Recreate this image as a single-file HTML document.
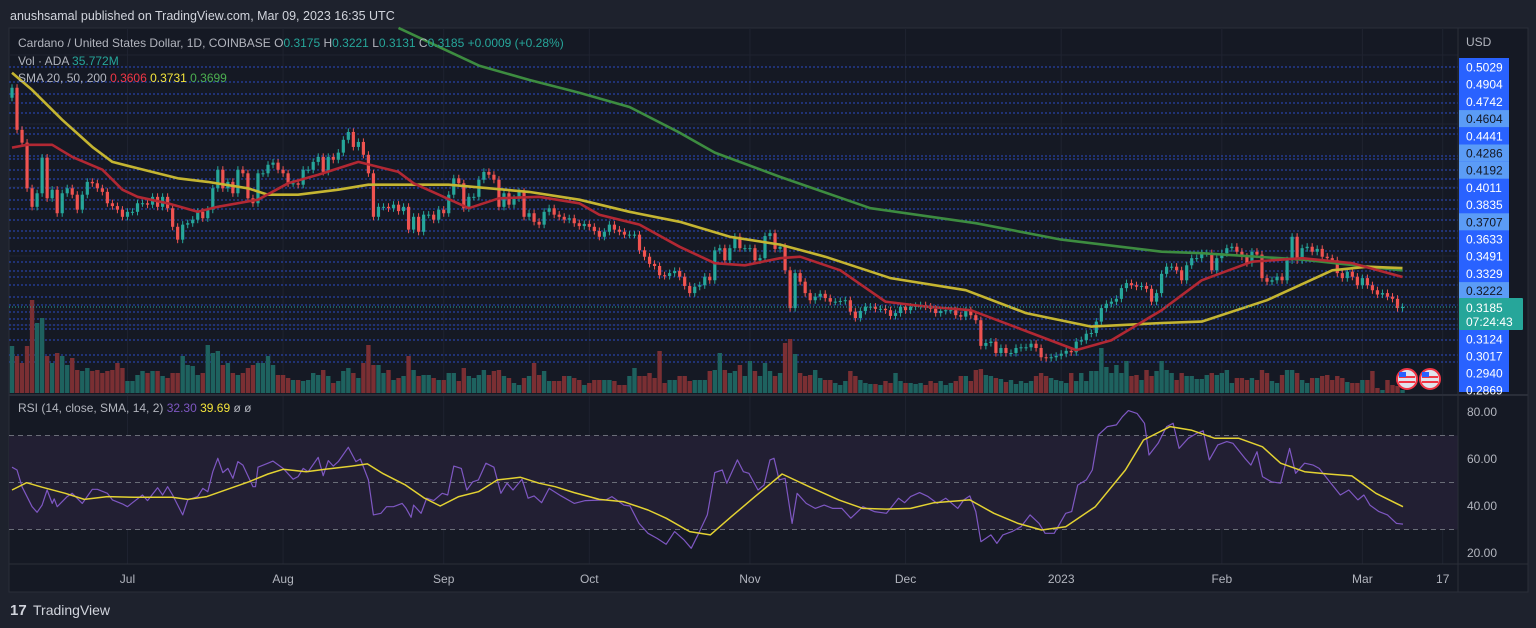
<!DOCTYPE html>
<html><head><meta charset="utf-8">
<style>
html,body{margin:0;padding:0;background:#1e222d;}
svg{display:block;font-family:"Liberation Sans",sans-serif;}
</style></head>
<body>
<svg id="c" width="1536" height="628" viewBox="0 0 1536 628" xmlns="http://www.w3.org/2000/svg">
<rect x="0" y="0" width="1536" height="628" fill="#1e222d"/>
<text x="10" y="20" fill="#d1d4dc" font-size="12.5">anushsamal published on TradingView.com, Mar 09, 2023 16:35 UTC</text>
<rect x="9" y="28" width="1519" height="564" fill="#151924" stroke="#2a2e39"/>
<g id="grid"></g>
<g id="hlines"></g>
<g id="vol"></g>
<g id="candles"></g>
<g id="smas"></g>
<line x1="9" y1="395" x2="1528" y2="395" stroke="#2a2e39" stroke-width="2"/>
<g id="rsi"></g>
<line x1="9" y1="564" x2="1528" y2="564" stroke="#2a2e39"/>
<line x1="1458" y1="28" x2="1458" y2="592" stroke="#2a2e39"/>
<g id="taxis" font-size="12" fill="#b2b5be" text-anchor="middle"></g>
<g id="paxis" font-size="12"></g>
<g id="raxis" font-size="12" fill="#b2b5be"></g>
<text x="1466" y="46" fill="#b2b5be" font-size="12">USD</text>
<g font-size="12">
<text x="18" y="47" fill="#b2b5be">Cardano / United States Dollar, 1D, COINBASE  O<tspan fill="#26a69a">0.3175</tspan>  H<tspan fill="#26a69a">0.3221</tspan>  L<tspan fill="#26a69a">0.3131</tspan>  C<tspan fill="#26a69a">0.3185</tspan>  <tspan fill="#26a69a">+0.0009 (+0.28%)</tspan></text>
<text x="18" y="65" fill="#b2b5be">Vol · ADA  <tspan fill="#26a69a">35.772M</tspan></text>
<text x="18" y="82" fill="#b2b5be">SMA 20, 50, 200  <tspan fill="#f23645">0.3606</tspan>  <tspan fill="#f5e53b">0.3731</tspan>  <tspan fill="#4caf50">0.3699</tspan></text>
<text x="18" y="412" fill="#b2b5be">RSI (14, close, SMA, 14, 2)  <tspan fill="#7e57c2">32.30</tspan>  <tspan fill="#f5e53b">39.69</tspan>  <tspan fill="#b2b5be">ø  ø</tspan></text>
</g>
<g>
<circle cx="1407" cy="379" r="10" fill="#e0e3eb" stroke="#f23645" stroke-width="2"/>
<rect x="1399" y="376" width="16" height="2" fill="#f23645"/><rect x="1399" y="381" width="16" height="2" fill="#f23645"/><rect x="1399" y="372" width="7" height="5" fill="#2962ff"/>
<circle cx="1430" cy="379" r="10" fill="#e0e3eb" stroke="#f23645" stroke-width="2"/>
<rect x="1422" y="376" width="16" height="2" fill="#f23645"/><rect x="1422" y="381" width="16" height="2" fill="#f23645"/><rect x="1422" y="372" width="7" height="5" fill="#2962ff"/>
</g>
<g>
<text x="10" y="615" fill="#d1d4dc" font-size="15" font-weight="bold">17</text>
<text x="33" y="615" fill="#d1d4dc" font-size="14">TradingView</text>
</g>
</svg>
<script>
const closes=[0.626,0.567,0.549,0.485,0.459,0.478,0.528,0.471,0.483,0.450,0.478,0.485,0.476,0.455,0.476,0.494,0.492,0.485,0.480,0.464,0.460,0.455,0.445,0.452,0.452,0.464,0.464,0.462,0.473,0.459,0.473,0.457,0.431,0.413,0.434,0.436,0.441,0.452,0.443,0.455,0.485,0.511,0.485,0.494,0.478,0.511,0.506,0.471,0.464,0.506,0.506,0.518,0.521,0.511,0.506,0.492,0.492,0.490,0.511,0.511,0.522,0.529,0.508,0.529,0.525,0.535,0.553,0.564,0.543,0.550,0.532,0.506,0.445,
0.459,0.459,0.457,0.462,0.453,0.459,0.427,0.445,0.424,0.448,0.448,0.441,0.455,0.450,0.476,0.499,0.492,0.457,0.473,0.473,0.497,0.508,0.504,0.497,0.459,0.478,0.462,0.471,0.480,0.445,0.450,0.438,0.434,0.452,0.457,0.448,0.445,0.441,0.443,0.436,0.432,0.435,0.431,0.425,0.417,0.424,0.434,0.427,0.424,0.420,0.420,0.420,0.398,0.389,0.379,0.376,0.363,0.362,0.366,0.369,0.361,0.348,0.338,0.347,0.349,0.361,0.356,0.398,0.401,0.384,0.401,0.417,0.401,0.401,0.401,0.384,
0.387,0.418,0.422,0.400,0.403,0.370,0.317,0.366,0.354,0.338,0.328,0.333,0.337,0.331,0.326,0.326,0.327,0.328,0.312,0.303,0.313,0.319,0.319,0.316,0.316,0.314,0.306,0.310,0.319,0.314,0.319,0.320,0.321,0.319,0.316,0.310,0.313,0.314,0.314,0.307,0.305,0.314,0.307,0.300,0.264,0.268,0.270,0.254,0.261,0.254,0.254,0.261,0.262,0.262,0.267,0.261,0.248,0.247,0.248,0.250,0.253,0.257,0.255,0.270,0.272,0.281,0.282,0.298,0.317,0.323,0.326,0.330,0.345,0.352,0.349,0.347,0.348,0.344,0.326,0.338,
0.365,0.375,0.375,0.370,0.356,0.377,0.387,0.387,0.394,0.394,0.370,0.387,0.394,0.401,0.403,0.396,0.389,0.380,0.396,0.392,0.359,0.354,0.356,0.361,0.356,0.384,0.417,0.384,0.401,0.403,0.396,0.400,0.389,0.387,0.384,0.366,0.359,0.368,0.361,0.349,0.359,0.349,0.342,0.336,0.338,0.333,0.330,0.317,0.3185];
const volumes=[47,37,30,47,93,70,75,37,30,40,37,28,35,23,22,25,22,23,20,22,23,30,25,12,12,18,22,20,22,22,17,15,20,20,37,28,27,18,20,48,40,42,28,30,20,18,20,25,28,30,30,37,28,18,18,15,13,13,12,13,20,18,23,17,10,12,22,25,20,15,30,48,28,
28,20,23,13,15,17,37,23,17,18,18,15,13,13,20,20,12,25,17,15,18,23,18,22,23,17,15,10,8,15,17,30,18,22,12,12,12,17,17,15,13,8,10,13,13,13,13,12,8,8,17,25,17,17,20,15,42,10,13,13,17,17,12,13,13,13,22,23,40,23,20,22,28,17,32,22,
17,30,22,17,20,50,54,39,20,17,18,23,15,13,13,10,8,12,22,17,13,10,9,9,8,12,10,20,12,10,10,9,10,8,12,10,12,8,10,12,17,17,12,23,24,18,17,15,14,11,13,9,12,10,12,17,20,17,15,13,12,10,20,12,20,12,22,22,45,26,20,28,20,32,17,18,13,23,17,22,
32,23,20,13,20,17,17,14,14,18,20,18,20,23,10,15,15,13,15,13,23,20,12,10,18,23,23,20,13,10,15,15,17,18,13,17,15,11,10,10,13,13,22,5,3,13,8,7,3];
const sma20Days=[0,3,8,12,18,22,25,31,37,41,49,55,61,69,77,80,91,97,105,113,117,125,133,140,146,153,157,165,174,182,191,203,212,219,229,237,247,257,267,277];
const sma20Vals=[0.542,0.546,0.546,0.529,0.511,0.483,0.473,0.464,0.452,0.459,0.469,0.492,0.504,0.522,0.508,0.492,0.457,0.471,0.473,0.464,0.448,0.434,0.403,0.380,0.377,0.387,0.389,0.370,0.326,0.319,0.314,0.282,0.258,0.272,0.314,0.356,0.382,0.387,0.380,0.3606];
const sma50Days=[0,4,10,16,20,25,33,39,47,51,57,65,71,77,87,103,113,123,133,143,153,162,175,190,202,215,229,237,250,263,270,277];
const sma50Vals=[0.647,0.623,0.581,0.543,0.522,0.513,0.499,0.494,0.485,0.476,0.476,0.483,0.490,0.490,0.490,0.480,0.469,0.452,0.438,0.417,0.406,0.389,0.359,0.342,0.310,0.291,0.296,0.298,0.328,0.370,0.375,0.3731];
const sma200Days=[77,93,103,113,123,133,140,153,171,192,209,229,237,257,277];
const sma200Vals=[0.710,0.657,0.637,0.619,0.599,0.563,0.535,0.501,0.457,0.436,0.413,0.396,0.394,0.385,0.3699];
const rsiDays=[0,1,2,4,5,6,7,8,8.4,9,11,12,14,16,17,19,20,22,23,24,26,27,29,30,31,32,34,35,37,38,39,40,41,42,43,44,45,46,48,48.5,49,51,52,54,56,57,58,59,61,62,63,64,65,67,68.5,69.4,71,72,73.5,74.6,76,77.7,78.5,79.5,80,81.5,82.6,84,85.7,86.8,88,89.5,90.6,91.8,92.9,94.4,96,97.4,98.6,99.8,101.6,102.8,104,105.5,107,109.3,112,114.2,
118.3,119.5,121.9,123.1,124.9,126.7,128.5,130.3,132,133.9,135.3,136.8,138.5,140,141.5,142.4,144.5,145.7,146.8,148.6,149.8,151,151.8,152.8,154,155.4,156.4,158.2,160,161.8,163.5,165.3,167.1,169.5,171.8,174.2,176.6,177.8,179,180.8,182.5,184.3,186,188.4,189.6,190.8,192,193,195,196.2,197.4,199.2,201,202.8,204.6,205.8,207.6,209.9,211.1,212.3,214,215.2,216.4,218.2,220,221.2,222.4,224.1,225.6,226.5,228.3,230,231.3,232.5,234.3,236,237.3,238.5,240.2,242,243.2,245.6,246.8,248,249.1,250.9,252.7,254.5,255.7,257.5,259.2,260.4,262.2,264.6,266.3,268.1,269.3,270.5,272.3,274,275.8,277.1];
const rsiVals=[56.5,55.3,48.2,39.7,37.3,40.4,46.8,41.1,43,39.7,44,45.4,41.1,47.1,47.1,45.4,42.6,40.9,39.7,41.4,44.7,42.3,47.8,44.7,48.2,44.7,36.2,42.6,44,47.5,46.1,54.6,60.3,54.2,56,51.8,58.9,57.4,48.2,48.2,56.5,58.2,59.1,56,51.4,52.5,56,54.6,60.7,52.9,59.3,57,58.9,65,58.9,60,51.1,36.2,36.9,39.7,39.7,41.1,39,35.2,40.4,36.9,43.3,42.3,45.4,44.7,57,56,46.8,50.3,51.1,58.2,56.5,45.4,49.7,46.8,51.4,43.3,44.3,41.4,47.5,44.4,41.1,42.3,
42.6,44,40.4,40,32.6,28.4,26.2,23.7,29.1,25.5,22,28.4,36.2,54.2,55.3,49.7,59.6,54.6,53.9,46.8,48.9,59.6,60.3,51.1,51.8,32.6,45.4,41.1,39,40.4,39,39,34.8,39.7,37.6,36.9,43.3,41.4,44,45.7,44,41.1,43.3,39,42.6,44.3,37.6,24.8,27.7,24.1,27.7,29.1,31.2,36.2,32.6,28.4,28.4,36.9,37.6,48.9,51.1,55.3,70.2,73.8,74.5,78,80.6,79.4,75.2,61.7,66.7,73.8,75.2,64.5,68.8,70.9,72,59.6,66,67.4,66.7,60.3,57.4,63.1,52.5,50.3,49.7,64.5,53.9,58.2,57.4,56,51.1,44.7,46.8,42.6,44.7,40.4,37.6,36.2,32.6,32.3];
const rsiMaDays=[0,2.9,6,10.6,14.4,19,24.3,31.9,35,38.8,43.4,47.2,51,54,58.6,62.4,67.7,70.8,73.8,78.4,82.2,85.3,89,92.9,96.7,101.3,105,108.2,112,117,121.9,126.7,130.3,135,139.1,143.3,148,153.4,158.8,164.7,169.5,174.2,179,183.7,190.8,195.6,200.4,205.1,209.9,215.8,221.8,225.4,230.7,234.9,239.6,244.4,249.1,252.7,257.5,262.2,266.9,271.7,277.1];
const rsiMaVals=[46.8,49.9,48,45.4,42.8,44,43.7,43.7,42.8,44,47.5,50.3,53.6,55.6,54.6,55.6,57,57.9,53.9,48.9,43.3,40,44,46.1,51.1,52.2,49.7,48.2,45.7,42.8,41.8,38.3,34.8,29.1,27.7,35.5,44,53.6,48.2,42.6,39,38.7,39,41.4,42.6,36.9,32.6,29.8,31.2,39.7,55.3,68.1,73.8,72.3,68.8,68.8,65.2,58.2,54.6,53.6,52.8,45.4,39.69];
const monthTickDays=[23,54,86,115,147,178,209,241,269,285];
const monthTickLabels=["Jul","Aug","Sep","Oct","Nov","Dec","2023","Feb","Mar","17"];
const priceLabels=["0.5029","0.4904","0.4742","0.4604","0.4441","0.4286","0.4192","0.4011","0.3835","0.3707","0.3633","0.3491","0.3329","0.3222","0.3124","0.3017","0.2940","0.2869"];
const lightLabels=["0.4604","0.4286","0.4192","0.3707","0.3222"];
const rsiTicks=[80,60,40,20];

const NS="http://www.w3.org/2000/svg";
function mk(tag,attrs,parent){const e=document.createElementNS(NS,tag);for(const k in attrs)e.setAttribute(k,attrs[k]);parent.appendChild(e);return e;}
const xD=i=>12+i*5.02;
const yP=p=>307-(p-0.3185)*713;
const yV=v=>393-v*1.0;
const yR=v=>412+(80-v)*2.35;

const grid=document.getElementById('grid');
monthTickDays.forEach(d=>{const l=mk('line',{x1:xD(d),x2:xD(d),y1:28,y2:564,stroke:'#1f2330','stroke-width':1},grid);

});
[55,124,187,256,325].forEach(y=>{const l=mk('line',{x1:9,x2:1458,y1:y,y2:y,stroke:'#1f2330'},grid);

});
const hl=document.getElementById('hlines');
[67,82,94,103,113,128,134,156,159,170,179,188,200,209,220,231,238,251,262,271,277,285,297,305,312,319,325,329,340,355,362].forEach(y=>{const l=mk('line',{x1:9,x2:1458,y1:y,y2:y,stroke:'#2b4cc4','stroke-width':1,'stroke-dasharray':'2 2'},hl);

});

const cg=document.getElementById('candles'),vg=document.getElementById('vol');
let prev=0.612;
closes.forEach((c,i)=>{const o=prev;prev=c;const up=c>=o;const col=up?'#26a69a':'#ef5350';const x=xD(i);
const hi=Math.max(o,c)+0.005,lo=Math.min(o,c)-0.005;
const w=mk('line',{x1:x,x2:x,y1:yP(hi),y2:yP(lo),stroke:col,'stroke-width':1},cg);


const yt=yP(Math.max(o,c)),yb=yP(Math.min(o,c));
const b=mk('rect',{x:x-1.6,y:yt,width:3.2,height:Math.max(1,yb-yt),fill:col},cg);


const v=volumes[i];const vb=mk('rect',{x:x-2.2,y:yV(v),width:4.4,height:393-yV(v),fill:up?'#1e625f':'#7a2f33'},vg);

});

const sg=document.getElementById('smas');
function poly(days,vals,yf,color,w,parent,name){const pts=days.map((d,i)=>xD(d).toFixed(1)+','+yf(vals[i]).toFixed(1)).join(' ');
const p=mk('polyline',{points:pts,fill:'none',stroke:color,'stroke-width':w,'stroke-linejoin':'round'},parent);

return p;}
poly(sma200Days,sma200Vals,yP,'#3d8c40',2.6,sg,'sma-200-line');
poly(sma50Days,sma50Vals,yP,'#c5b531',2.6,sg,'sma-50-line');
poly(sma20Days,sma20Vals,yP,'#b22833',2.6,sg,'sma-20-line');

const rg=document.getElementById('rsi');
const band=mk('rect',{x:9,y:yR(70),width:1449,height:yR(30)-yR(70),fill:'#221f33'},rg);


[70,50,30].forEach(v=>{const l=mk('line',{x1:9,x2:1458,y1:yR(v),y2:yR(v),stroke:'#6a6d78','stroke-dasharray':'5 4'},rg);

});
poly(rsiDays,rsiVals,yR,'#7e57c2',1.2,rg,'rsi-line');
poly(rsiMaDays,rsiMaVals,yR,'#e3d232',1.5,rg,'rsi-ma-line');

const ta=document.getElementById('taxis');
monthTickDays.forEach((d,i)=>{const t=mk('text',{x:xD(d),y:583},ta);t.textContent=monthTickLabels[i];

});
const ra=document.getElementById('raxis');
rsiTicks.forEach(v=>{const t=mk('text',{x:1467,y:yR(v)+4},ra);t.textContent=v.toFixed(2);

});
const pa=document.getElementById('paxis');
const bg=mk('rect',{x:1459,y:58,width:50,height:334,fill:'#2962ff'},pa);


priceLabels.forEach((s,i)=>{const yc=i<14?67+i*17.2:339+(i-14)*17;const light=lightLabels.includes(s);
if(light){const r=mk('rect',{x:1459,y:yc-8.5,width:50,height:17,fill:'#5b9cf6'},pa);

}
const t=mk('text',{x:1466,y:yc+4.5,fill:light?'#131722':'#ffffff'},pa);t.textContent=s;

});
const cb=mk('rect',{x:1459,y:298,width:64,height:32,fill:'#26a69a',rx:1},pa);


const ct=mk('text',{x:1466,y:312,fill:'#ffffff'},pa);ct.textContent='0.3185';


const cd=mk('text',{x:1466,y:326,fill:'#ffffff'},pa);cd.textContent='07:24:43';


const cl=mk('line',{x1:9,x2:1458,y1:yP(0.3185),y2:yP(0.3185),stroke:'#26a69a','stroke-dasharray':'1 2'},pa);


</script>
</body></html>
